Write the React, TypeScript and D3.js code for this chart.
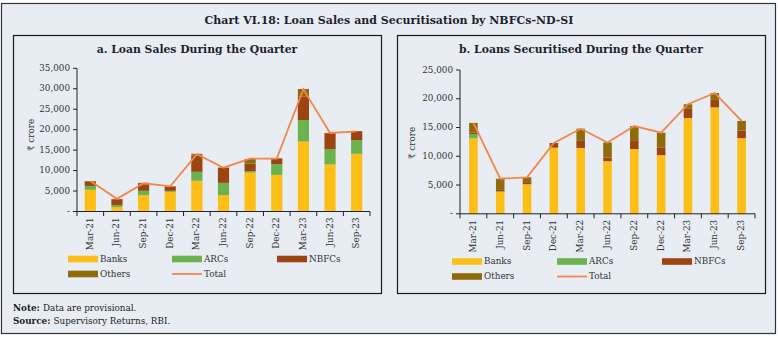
import React from 'react';
import * as d3 from 'd3';

const categories = ['Mar-21', 'Jun-21', 'Sep-21', 'Dec-21', 'Mar-22', 'Jun-22', 'Sep-22', 'Dec-22', 'Mar-23', 'Jun-23', 'Sep-23'];

// Panel a: Loan sales (₹ crore)
const salesBanks = [5300, 1100, 4000, 4800, 7500, 4000, 9500, 8950, 17100, 11500, 14100];
const salesARCs = [950, 500, 1050, 250, 2200, 3000, 400, 2650, 5250, 3750, 3350];
const salesNBFCs = [1000, 1400, 1650, 1050, 4000, 3750, 1800, 1300, 5800, 3900, 2200];
const salesOthers = [200, 50, 300, 100, 400, 0, 1150, 150, 1800, 50, 0];
const salesTotal = [7450, 3100, 6900, 6150, 14000, 10700, 12900, 12950, 29900, 19200, 19600];
const salesTicks = [0, 5000, 10000, 15000, 20000, 25000, 30000, 35000];

// Panel b: Loans securitised (₹ crore)
const secBanks = [13100, 3850, 5150, 11500, 11400, 9150, 11250, 10200, 16650, 18500, 13150];
const secARCs = [700, 50, 0, 0, 50, 0, 0, 0, 0, 0, 0];
const secNBFCs = [350, 250, 350, 800, 1350, 650, 1550, 1350, 1600, 1300, 1300];
const secOthers = [1650, 1950, 850, 0, 2000, 2600, 2450, 2550, 800, 1200, 1700];
const secTotal = [15800, 6100, 6350, 12300, 14800, 12400, 15250, 14100, 19050, 21000, 16150];
const secTicks = [0, 5000, 10000, 15000, 20000, 25000];

const seriesKeys = ['Banks', 'ARCs', 'NBFCs', 'Others'];
const colors: Record<string, string> = {
  Banks: '#FDBE16',
  ARCs: '#6CB24E',
  NBFCs: '#9C4512',
  Others: '#8E6C0C',
  Total: '#F4864A',
};

const FONT = '"DejaVu Serif", "Liberation Serif", serif';
const BG = '#E8EDF4';

type PanelProps = {
  title: string;
  box: [number, number, number, number];
  titleX: number;
  banks: number[];
  arcs: number[];
  nbfcs: number[];
  others: number[];
  total: number[];
  ticks: number[];
  yMax: number;
  xRange: [number, number];
  yRange: [number, number];
  padding: number;
  yLabelX: number;
  yLabelY: number;
  legendX: [number, number, number];
  legendY: [number, number];
};

function Panel(p: PanelProps) {
  const x = d3.scaleBand<string>().domain(categories).range(p.xRange).paddingInner(p.padding).paddingOuter(p.padding / 2);
  const band = d3.scaleBand<string>().domain(categories).range(p.xRange);
  const y = d3.scaleLinear().domain([0, p.yMax]).range(p.yRange);
  const rows = categories.map((c, i) => ({
    cat: c,
    Banks: p.banks[i],
    ARCs: p.arcs[i],
    NBFCs: p.nbfcs[i],
    Others: p.others[i],
  }));
  const stacked = d3.stack<any>().keys(seriesKeys)(rows);
  const line = d3
    .line<number>()
    .x((_, i) => (band(categories[i]) as number) + band.bandwidth() / 2)
    .y((d) => y(d));
  const fmt = d3.format(',');
  const y0 = y(0);
  const [bx, by, bw, bh] = p.box;
  const axX = p.xRange[0];
  const lx = p.legendX;
  const ly = p.legendY;
  const legendItems: [string, number, number][] = [
    ['Banks', lx[0], ly[0]],
    ['ARCs', lx[1], ly[0]],
    ['NBFCs', lx[2], ly[0]],
    ['Others', lx[0], ly[1]],
  ];
  return (
    <g>
      <rect x={bx} y={by} width={bw} height={bh} fill={BG} stroke="#1a1a1a" strokeWidth={1.2} />
      <text x={p.titleX} y={50} textAnchor="middle" dominantBaseline="middle" fontFamily={FONT} fontWeight="bold" fontSize={10.8} fill="#1f1f2e">
        {p.title}
      </text>
      {/* bars */}
      {stacked.map((s) => (
        <g key={s.key} fill={colors[s.key]}>
          {s.map((d, i) => {
            const h = y(d[0]) - y(d[1]);
            if (h <= 0) return null;
            return <rect key={i} x={x(categories[i])} y={y(d[1])} width={x.bandwidth()} height={h} />;
          })}
        </g>
      ))}
      {/* total line */}
      <path d={line(p.total) || ''} fill="none" stroke={colors.Total} strokeWidth={1.8} strokeLinejoin="miter" />
      {/* y axis */}
      <line x1={axX} x2={axX} y1={y0} y2={y(p.yMax)} stroke="#222" strokeWidth={1} />
      {p.ticks.map((t) => (
        <g key={t}>
          <line x1={axX - 4} x2={axX} y1={y(t)} y2={y(t)} stroke="#222" strokeWidth={1} />
          <text x={axX - 7} y={y(t)} textAnchor="end" dominantBaseline="middle" fontFamily={FONT} fontSize={8.8} fill="#333">
            {t === 0 ? '-' : fmt(t)}
          </text>
        </g>
      ))}
      <text
        transform={`translate(${p.yLabelX},${p.yLabelY}) rotate(-90)`}
        textAnchor="middle"
        dominantBaseline="middle"
        fontFamily={FONT}
        fontSize={8.8}
        fill="#333"
      >
        ₹ crore
      </text>
      {/* x axis */}
      <line x1={p.xRange[0]} x2={p.xRange[1]} y1={y0} y2={y0} stroke="#222" strokeWidth={1} />
      {categories.concat(['__end']).map((c, i) => {
        const xx = i < categories.length ? (band(c) as number) : p.xRange[1];
        return <line key={c} x1={xx} x2={xx} y1={y0} y2={y0 + 4.5} stroke="#222" strokeWidth={1} />;
      })}
      {categories.map((c) => (
        <text
          key={c}
          transform={`translate(${(band(c) as number) + band.bandwidth() / 2},${y0 + 6}) rotate(-90)`}
          textAnchor="end"
          dominantBaseline="middle"
          fontFamily={FONT}
          fontSize={8.8}
          fill="#333"
        >
          {c}
        </text>
      ))}
      {/* legend */}
      {legendItems.map(([k, lxx, lyy]) => (
        <g key={k}>
          <rect x={lxx} y={lyy - 3.3} width={30} height={6.6} fill={colors[k]} />
          <text x={lxx + 32} y={lyy} dominantBaseline="middle" fontFamily={FONT} fontSize={8.8} fill="#333">
            {k}
          </text>
        </g>
      ))}
      <line x1={lx[1]} x2={lx[1] + 30} y1={ly[1]} y2={ly[1]} stroke={colors.Total} strokeWidth={1.8} />
      <text x={lx[1] + 32} y={ly[1]} dominantBaseline="middle" fontFamily={FONT} fontSize={8.8} fill="#333">
        Total
      </text>
    </g>
  );
}

export default function App() {
  return (
    <svg width={778} height={338} style={{ position: 'absolute', left: 0, top: 0, background: '#fff' }}>
      <rect x={1.5} y={3.5} width={774} height={330} fill={BG} stroke="#333" strokeWidth={1.2} />
      <text x={389} y={20.5} textAnchor="middle" dominantBaseline="middle" fontFamily={FONT} fontWeight="bold" fontSize={11} fill="#1f1f2e">
        Chart VI.18: Loan Sales and Securitisation by NBFCs-ND-SI
      </text>
      <Panel
        title="a. Loan Sales During the Quarter"
        box={[13.5, 35.5, 368, 258]}
        titleX={197}
        banks={salesBanks}
        arcs={salesARCs}
        nbfcs={salesNBFCs}
        others={salesOthers}
        total={salesTotal}
        ticks={salesTicks}
        yMax={35000}
        xRange={[77, 370]}
        yRange={[211.5, 68.3]}
        padding={0.58}
        yLabelX={31}
        yLabelY={135}
        legendX={[68, 172, 277]}
        legendY={[259, 274]}
      />
      <Panel
        title="b. Loans Securitised During the Quarter"
        box={[397.5, 35.5, 368, 258]}
        titleX={581}
        banks={secBanks}
        arcs={secARCs}
        nbfcs={secNBFCs}
        others={secOthers}
        total={secTotal}
        ticks={secTicks}
        yMax={25000}
        xRange={[460, 755]}
        yRange={[213.8, 70]}
        padding={0.68}
        yLabelX={412}
        yLabelY={143}
        legendX={[452, 557, 662]}
        legendY={[261.5, 276.5]}
      />
      <text x={13} y={308} dominantBaseline="middle" fontFamily={FONT} fontSize={8.8} fill="#222">
        <tspan fontWeight="bold">Note: </tspan>Data are provisional.
      </text>
      <text x={13} y={321} dominantBaseline="middle" fontFamily={FONT} fontSize={8.8} fill="#222">
        <tspan fontWeight="bold">Source: </tspan>Supervisory Returns, RBI.
      </text>
    </svg>
  );
}
